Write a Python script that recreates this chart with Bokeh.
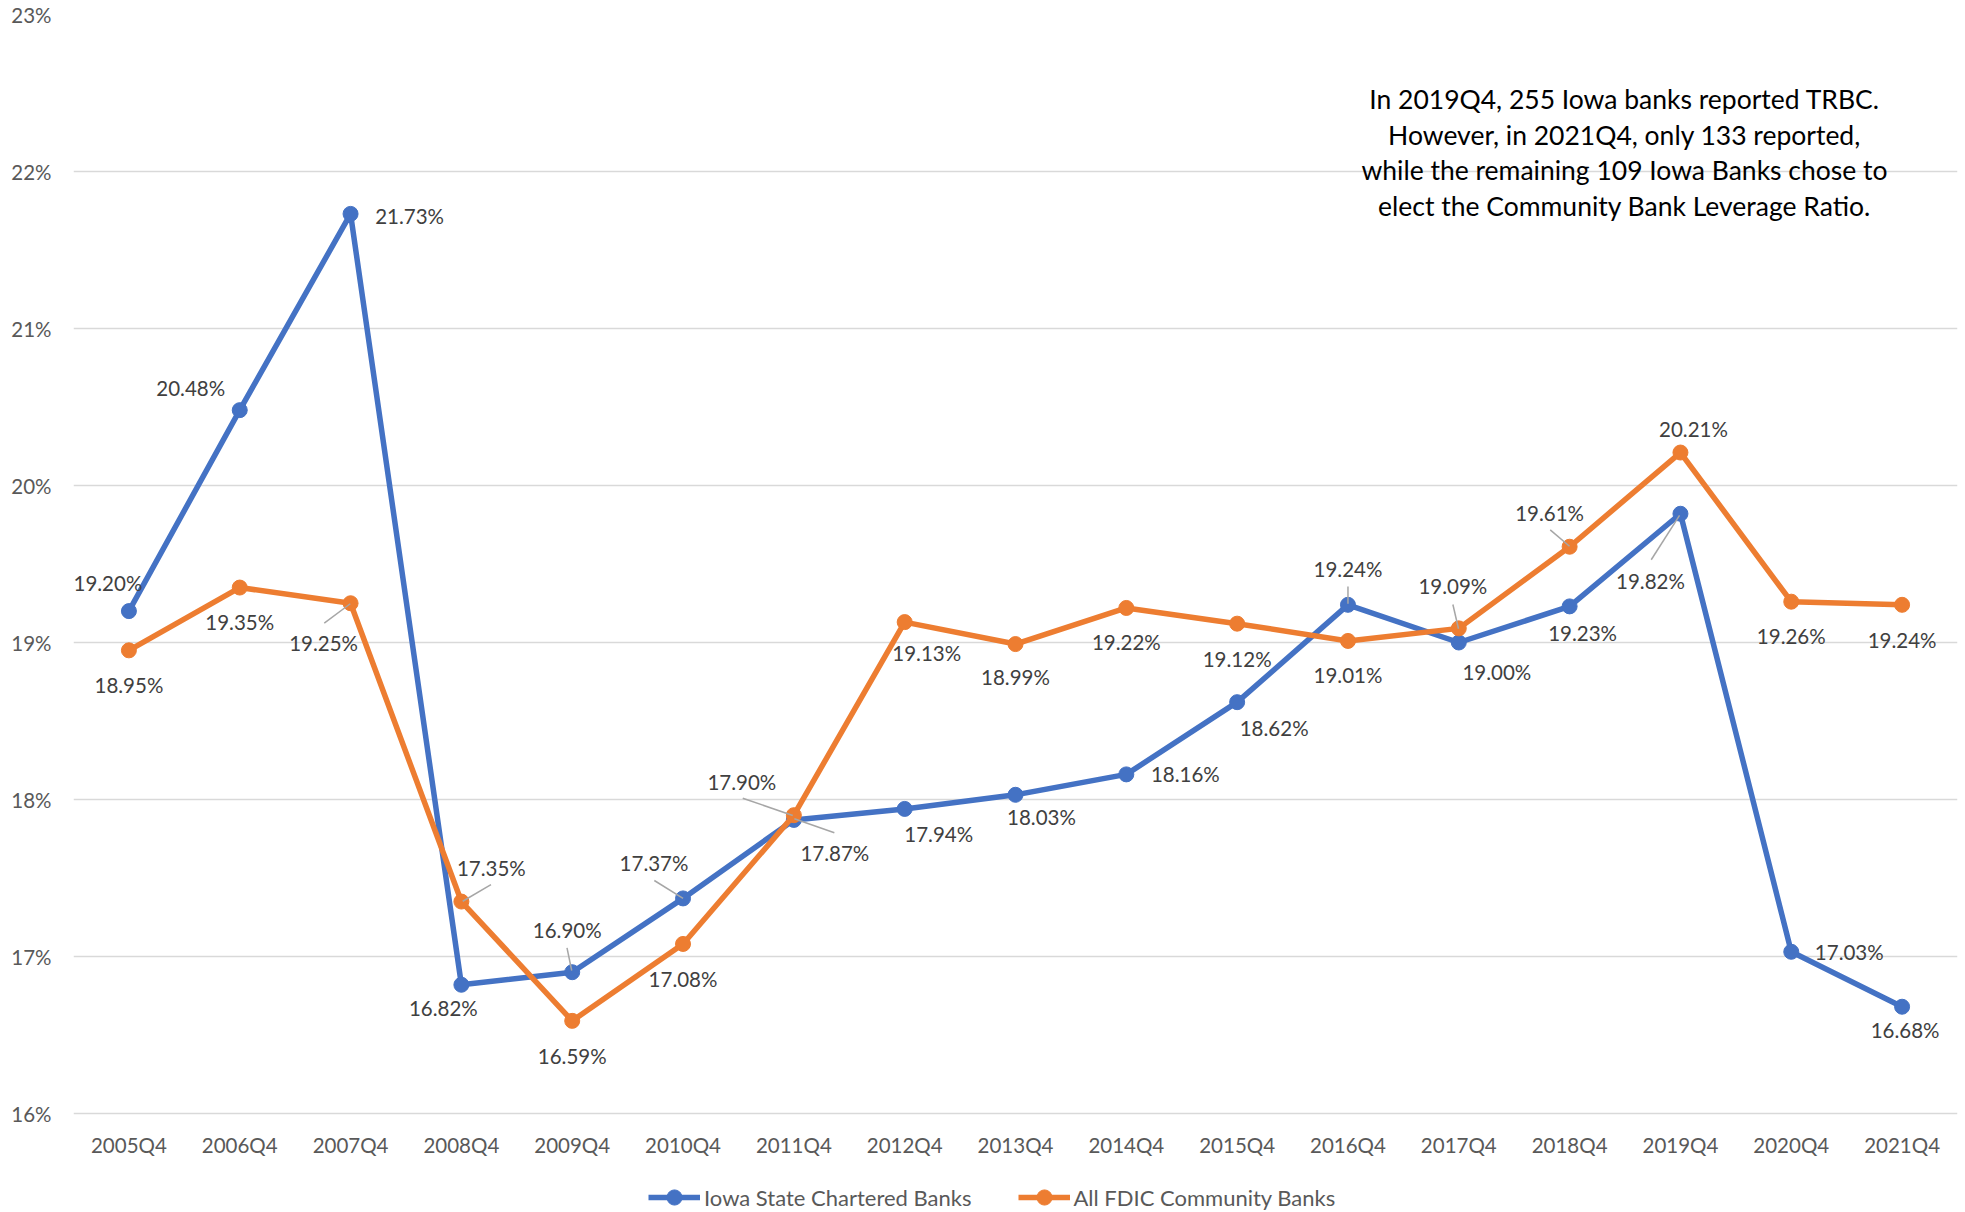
from bokeh.plotting import figure
from bokeh.models import (FactorRange, Range1d, FixedTicker, PrintfTickFormatter,
                          ColumnDataSource, Legend, LegendItem, Label)
from bokeh.core.properties import value
from bokeh.embed import file_html
from bokeh.resources import INLINE

# ---------------- data ----------------
quarters = ["2005Q4", "2006Q4", "2007Q4", "2008Q4", "2009Q4", "2010Q4", "2011Q4",
            "2012Q4", "2013Q4", "2014Q4", "2015Q4", "2016Q4", "2017Q4", "2018Q4",
            "2019Q4", "2020Q4", "2021Q4"]
iowa = [19.20, 20.48, 21.73, 16.82, 16.90, 17.37, 17.87, 17.94, 18.03, 18.16,
        18.62, 19.24, 19.00, 19.23, 19.82, 17.03, 16.68]
fdic = [18.95, 19.35, 19.25, 17.35, 16.59, 17.08, 17.90, 19.13, 18.99, 19.22,
        19.12, 19.01, 19.09, 19.61, 20.21, 19.26, 19.24]
series_names = ["Iowa State Chartered Banks", "All FDIC Community Banks"]
y_ticks = [16, 17, 18, 19, 20, 21, 22, 23]
note_lines = ["In 2019Q4, 255 Iowa banks reported TRBC.",
              "However, in 2021Q4, only 133 reported,",
              "while the remaining 109 Iowa Banks chose to",
              "elect the Community Bank Leverage Ratio."]

# ---------------- styling / layout ----------------
BLUE = "#4472C4"
ORANGE = "#ED7D31"
GRID = "#D9D9D9"
LABEL_C = "#404040"
TICK_C = "#595959"
LEADER_C = "#A6A6A6"
FONT = "Lato"
FS = "20.5px"

W, H = 1965, 1212
ML, MR, MT = 73, 8, 14
PLOT_BOTTOM = 1113          # pixel row of the lowest gridline (16%)
FRAME_W = W - ML - MR
YMIN, YMAX = 16, 23
PX_X = FRAME_W / len(quarters)
PX_Y = (PLOT_BOTTOM - MT) / (YMAX - YMIN)
Y_LOW = YMIN - (H - PLOT_BOTTOM) / PX_Y   # frame extends to the bottom (room for labels/legend)

# label offsets (screen px, relative to the point), y positive = down
iowa_off = [(-21, -28), (-49, -22), (59, 2), (-18, 23), (-5, -42), (-29, -35),
            (41, 33), (34, 25), (26, 22), (59, 0), (37, 26), (0, -36), (38, 29),
            (13, 27), (-30, 67), (58, 0), (3, 23)]
fdic_off = [(0, 35), (0, 34), (-27, 40), (30, -34), (0, 35), (0, 35), (-52, -33),
            (22, 31), (0, 33), (0, 34), (0, 35), (0, 34), (-6, -42), (-20, -34),
            (13, -24), (0, 34), (0, 35)]
# leader lines: (series, index, (x0, y0), (x1, y1)) in px relative to point
leaders = [
    ("iowa", 4, (-5.2, -24.4), (-0.5, -1.7)),
    ("iowa", 5, (-28.7, -17.9), (0, 0)),
    ("iowa", 6, (0.5, -1.1), (40.5, 12.9)),
    ("iowa", 11, (0, -18.3), (0, -1)),
    ("iowa", 14, (-29.2, 46), (-0.9, 1.7)),
    ("fdic", 2, (-26.3, 19.9), (-0.3, 0.5)),
    ("fdic", 3, (1.3, -0.3), (29.6, -17)),
    ("fdic", 6, (-51.1, -17), (-1.1, 0.3)),
    ("fdic", 12, (-5.9, -23.9), (-0.3, 0.4)),
    ("fdic", 13, (-19.4, -16.9), (-0.1, -0.5)),
]

p = figure(width=W, height=H, output_backend="svg", toolbar_location=None,
           x_range=FactorRange(*quarters, range_padding=0),
           y_range=Range1d(Y_LOW, YMAX),
           min_border_left=ML, min_border_right=MR, min_border_top=MT,
           min_border_bottom=0)
p.outline_line_color = None
p.background_fill_color = "white"
p.border_fill_color = "white"

p.xaxis.visible = False
p.xgrid.grid_line_color = None
p.ygrid.grid_line_color = GRID
p.ygrid.grid_line_width = 1.5
p.yaxis.ticker = FixedTicker(ticks=y_ticks)
p.yaxis.formatter = PrintfTickFormatter(format="%d%%")
p.yaxis.axis_line_color = None
p.yaxis.major_tick_line_color = None
p.yaxis.minor_tick_line_color = None
p.yaxis.major_tick_out = 0
p.yaxis.major_tick_in = 0
p.yaxis.major_label_text_font = FONT
p.yaxis.major_label_text_font_size = FS
p.yaxis.major_label_text_color = TICK_C
p.yaxis.major_label_standoff = 22

# category labels along the bottom gridline
p.text(x=quarters, y=[YMIN] * len(quarters), text=quarters, y_offset=31,
       text_align="center", text_baseline="middle",
       text_font=value(FONT), text_font_size=FS, text_color=TICK_C)

src_i = ColumnDataSource(dict(x=quarters, y=iowa,
                              t=["%.2f%%" % v for v in iowa],
                              dx=[o[0] for o in iowa_off], dy=[o[1] for o in iowa_off]))
src_f = ColumnDataSource(dict(x=quarters, y=fdic,
                              t=["%.2f%%" % v for v in fdic],
                              dx=[o[0] for o in fdic_off], dy=[o[1] for o in fdic_off]))

li = p.line("x", "y", source=src_i, line_color=BLUE, line_width=5.5, line_join="round")
si = p.scatter("x", "y", source=src_i, size=15, fill_color=BLUE, line_color=BLUE)
lf = p.line("x", "y", source=src_f, line_color=ORANGE, line_width=5.5, line_join="round")
sf = p.scatter("x", "y", source=src_f, size=15, fill_color=ORANGE, line_color=ORANGE)

# leader lines
vals = {"iowa": iowa, "fdic": fdic}
x0s, y0s, x1s, y1s = [], [], [], []
for name, i, (ax0, ay0), (ax1, ay1) in leaders:
    v = vals[name][i]
    x0s.append(i + 0.5 + ax0 / PX_X)
    y0s.append(v - ay0 / PX_Y)
    x1s.append(i + 0.5 + ax1 / PX_X)
    y1s.append(v - ay1 / PX_Y)
p.segment(x0=x0s, y0=y0s, x1=x1s, y1=y1s, line_color=LEADER_C, line_width=1.5)

for src in (src_i, src_f):
    p.text("x", "y", text="t", source=src, x_offset="dx", y_offset="dy",
           text_align="center", text_baseline="middle",
           text_font=value(FONT), text_font_size=FS, text_color=LABEL_C)

# note (positions in pixels from the top of the figure)
note_top = [98, 134, 169, 205.5]
for line, yy in zip(note_lines, note_top):
    p.add_layout(Label(x=1551, y=H - yy, x_units="screen", y_units="screen", text=line,
                       text_align="center", text_baseline="middle",
                       text_font=FONT, text_font_size="26.5px", text_color="#000000"))

legend = Legend(items=[LegendItem(label=series_names[0], renderers=[li, si]),
                       LegendItem(label=series_names[1], renderers=[lf, sf])],
                orientation="horizontal", location=(575, -4),
                glyph_width=52, glyph_height=38, label_standoff=4, spacing=46,
                padding=0, margin=0, border_line_color=None,
                background_fill_alpha=0,
                label_text_font=FONT, label_text_font_size="22px",
                label_text_color=TICK_C, label_height=22)
p.add_layout(legend, "center")

open("out.html", "w").write(file_html(p, INLINE))
